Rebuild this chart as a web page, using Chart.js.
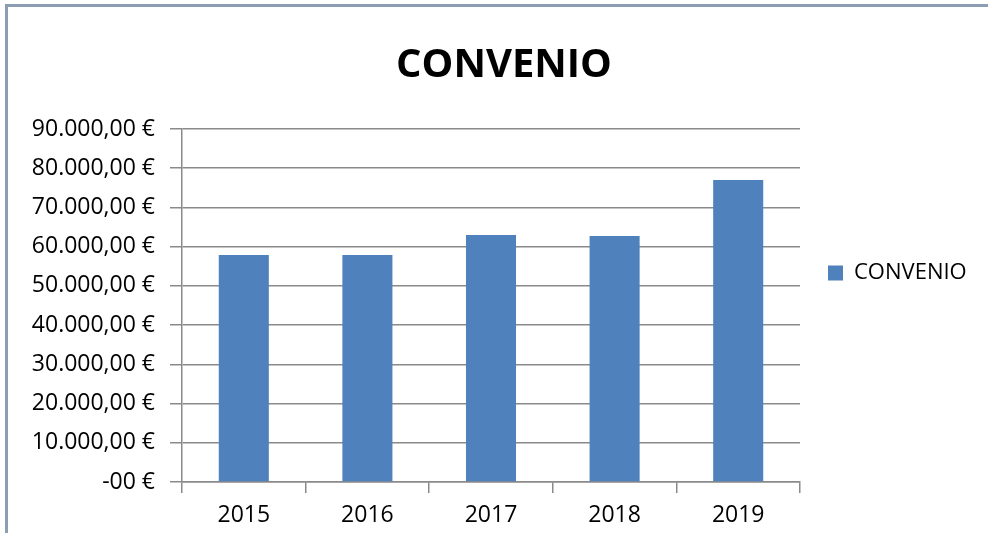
<!DOCTYPE html>
<html>
<head>
<meta charset="utf-8">
<script src="https://cdn.jsdelivr.net/npm/chart.js@4"></script>
<style>
	html, body { margin: 0; padding: 0; background: #fff; overflow: hidden; }
	#frame {
		position: absolute; left: 5px; top: 4px; width: 1100px; height: 700px;
		border-left: 3px solid #8d9db4; border-top: 3px solid #8d9db4;
		box-sizing: border-box;
	}
	#wrap { position: absolute; left: 0; top: 0; width: 988px; height: 533px; }
</style>
</head>
<body>
<div id="frame"></div>
<div id="wrap"><canvas id="myChart" width="988" height="533"></canvas></div>
<script>
// data
const years = ['2015', '2016', '2017', '2018', '2019']
const convenio = [57900, 57900, 63000, 62750, 77000]
const yTicks = [0, 10000, 20000, 30000, 40000, 50000, 60000, 70000, 80000, 90000]

const euro = (v) => {
	if (v === 0) return '-00 €'
	const s = String(Math.round(v))
	const grouped = s.replace(/\B(?=(\d{3})+(?!\d))/g, '.')
	return grouped + ',00 €'
}

// legend: fixed width, moved up a bit like the original
const legendPlace = {
	id: 'legendPlace',
	afterInit(chart) {
		const lg = chart.legend
		const fit = lg.fit
		lg.fit = function () {
			fit.call(this)
			this.width = 188
		}
	},
	afterLayout(chart) {
		const lg = chart.legend
		lg.top = chart.chartArea.top
		lg.bottom = 417
	},
}

const font = "'Open Sans', 'DejaVu Sans', sans-serif"
const gridColor = '#8a8a8a'

const ctx = document.getElementById('myChart').getContext('2d')
const myChart = new Chart(ctx, {
	type: 'bar',
	data: {
		labels: years,
		datasets: [
			{
				label: 'CONVENIO',
				data: convenio,
				backgroundColor: '#4f81bd',
				borderColor: '#4f81bd',
				borderWidth: 0,
				categoryPercentage: 1,
				barPercentage: 0.405,
			},
		],
	},
	options: {
		responsive: false,
		animation: false,
		layout: { padding: { left: 20, right: 0, top: 0, bottom: 0 } },
		plugins: {
			title: {
				display: true,
				text: 'CONVENIO',
				color: '#000',
				font: { family: font, size: 40, weight: 'bold', lineHeight: 1.2 },
				padding: { top: 42, bottom: 39 },
			},
			legend: {
				position: 'right',
				align: 'center',
				labels: {
					color: '#000',
					font: { family: font, size: 22 },
					boxWidth: 15,
					boxHeight: 15,
					padding: 28,
				},
			},
			tooltip: { enabled: false },
		},
		scales: {
			x: {
				grid: {
					drawOnChartArea: false,
					drawTicks: true,
					tickLength: 11,
					color: gridColor,
					lineWidth: 1.5,
				},
				border: { color: gridColor, width: 1.5 },
				ticks: {
					color: '#000',
					font: { family: font, size: 23 },
					padding: 9,
				},
				afterFit(scale) {
					scale.height = 51
				},
			},
			y: {
				min: 0,
				max: 90000,
				afterBuildTicks(scale) {
					scale.ticks = yTicks.map((v) => ({ value: v }))
				},
				grid: {
					color: gridColor,
					lineWidth: 1.5,
					tickLength: 12,
				},
				border: { color: gridColor, width: 1.5 },
				ticks: {
					color: '#000',
					font: { family: font, size: 23 },
					padding: 15,
					callback: (v) => euro(v),
				},
				afterFit(scale) {
					scale.width = 162
				},
			},
		},
	},
	plugins: [legendPlace],
})
</script>
</body>
</html>
